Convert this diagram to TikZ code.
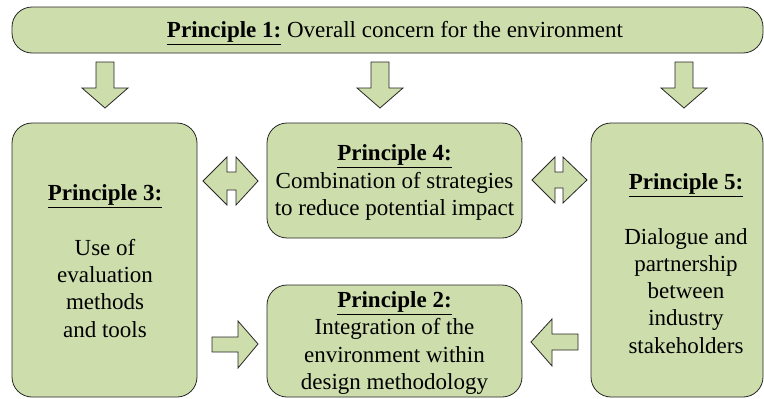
\documentclass[tikz,border=0pt]{standalone}
\usepackage{fontspec}
\setmainfont{Liberation Serif}
\definecolor{boxgreen}{RGB}{205,221,172}
\begin{document}
\begin{tikzpicture}[x=1pt,y=-1pt,
  box/.style={draw=black!85, line width=0.8pt, fill=boxgreen, rounded corners=20pt, inner sep=0pt},
  boxtext/.style={align=center, inner sep=0pt, font=\fontsize{23}{27.3}\selectfont},
  blockarrow/.style={draw=black!85, line width=0.8pt, fill=boxgreen, line join=miter}]
\useasboundingbox (0,0) rectangle (764,399);
% boxes
\node[box, minimum width=751pt, minimum height=46pt] (p1) at (387.5,30) {};
\node[box, minimum width=185pt, minimum height=274pt] (p3) at (104.5,260) {};
\node[box, minimum width=255pt, minimum height=115pt] (p4) at (394.5,180.5) {};
\node[box, minimum width=255pt, minimum height=112pt] (p2) at (394.5,341) {};
\node[box, minimum width=172pt, minimum height=274pt] (p5) at (677,260) {};
% texts
\node[boxtext] (t1) at (395,33) {\underline{\textbf{Principle 1:}} Overall concern for the environment};
\node[boxtext] (t3) at (105,261) {\underline{\textbf{Principle 3:}}\\[27.3pt] Use of\\ evaluation\\ methods\\ and tools};
\node[boxtext] (t4) at (394.5,182.5) {\underline{\textbf{Principle 4:}}\\ Combination of strategies\\ to reduce potential impact};
\node[boxtext] (t2) at (394.5,343) {\underline{\textbf{Principle 2:}}\\ Integration of the\\ environment within\\ design methodology};
\node[boxtext] (t5) at (686,263.5) {\underline{\textbf{Principle 5:}}\\[27.3pt] Dialogue and\\ partnership\\ between\\ industry\\ stakeholders};
% down arrows
\foreach \cx in {105,380,684}{
  \draw[blockarrow] (\cx-9,62) -- (\cx+9,62) -- (\cx+9,88) -- (\cx+23,88) -- (\cx,108) -- (\cx-23,88) -- (\cx-9,88) -- cycle;
}
% double arrows
\draw[blockarrow] (203,181) -- (227,157) -- (227,172) -- (236,172) -- (236,157) -- (258,181) -- (236,205) -- (236,190) -- (227,190) -- (227,205) -- cycle;
\draw[blockarrow] (532,180) -- (555,157) -- (555,172) -- (563,172) -- (563,157) -- (587,180) -- (563,203) -- (563,188) -- (555,188) -- (555,203) -- cycle;
% right arrow P3 -> P2
\draw[blockarrow] (212,337) -- (238,337) -- (238,321) -- (258,344) -- (238,368) -- (238,352) -- (212,352) -- cycle;
% left arrow P5 -> P2
\draw[blockarrow] (578,334) -- (552,334) -- (552,319) -- (531,342) -- (552,366) -- (552,350) -- (578,350) -- cycle;
\end{tikzpicture}
\end{document}
